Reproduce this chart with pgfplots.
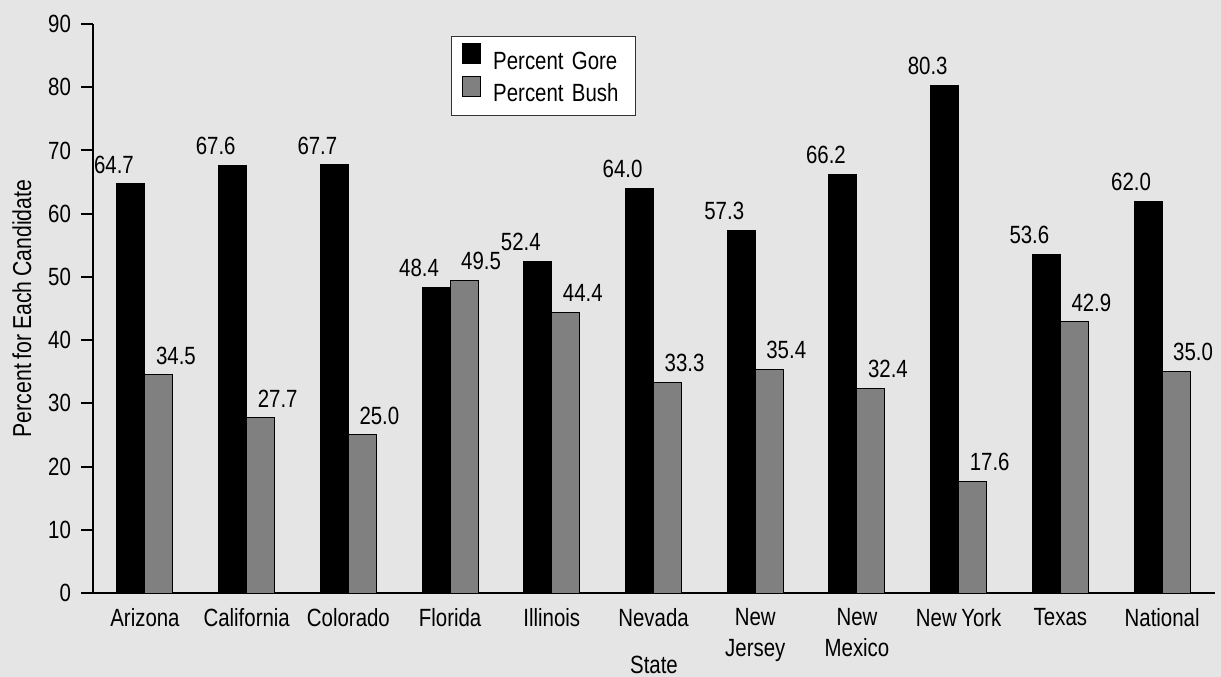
\documentclass[border=0pt]{standalone}
\usepackage{pgfplots}
\pgfplotsset{compat=1.18}
\usepackage{fontspec}
\setmainfont{Liberation Sans}[FakeStretch=0.82, WordSpace=0.8]
\definecolor{bg}{HTML}{E5E5E5}
\definecolor{bushgray}{HTML}{808080}
\definecolor{framegray}{HTML}{333333}
\newcommand{\lf}{\fontsize{12.5}{15.5}\selectfont}
\begin{document}
\begin{tikzpicture}
\fill[bg] (-46.5bp,-42bp) rectangle (564bp,296.5bp);
\path[use as bounding box] (-46.5bp,-42bp) rectangle (564bp,296.5bp);
\begin{axis}[
  at={(0,0)}, anchor=south west,
  scale only axis, width=561bp, height=284.5bp,
  xmin=-0.511, xmax=10.52, ymin=0, ymax=90,
  axis x line=bottom, axis y line=left,
  axis line style={-, line width=1bp, black},
  /pgf/number format/assume math mode=true,
  ytick={0,10,...,90},
  tick align=outside, major tick length=6bp,
  ytick style={line width=1bp, black},
  xtick={0,...,10},
  xticklabels={Arizona, California, Colorado, Florida, Illinois, Nevada, {New\\Jersey}, {New\\Mexico}, New York, Texas, National},
  xtick style={draw=none},
  xticklabel style={align=center, font=\lf, yshift=2bp},
  yticklabel style={font=\lf, xshift=-1.5bp},
  ylabel={Percent for Each Candidate},
  ylabel style={at={(axis description cs:-0.0633,0.5)}, anchor=center, font=\fontsize{13}{15}\selectfont},
  xlabel={State},
  xlabel style={at={(axis description cs:0.5,-0.141)}, anchor=base, font=\lf},
  legend style={at={(0.319,0.979)}, anchor=north west, draw=framegray, line width=0.5bp,
    fill=white, font=\lf, inner xsep=5.5bp, inner ysep=3.5bp, row sep=0bp,
    nodes={inner sep=2bp, text width=63.5bp, align=left},
    /tikz/every odd column/.append style={column sep=4bp}},
  legend cell align=left,
  nodes near coords={\pgfmathprintnumber[fixed,fixed zerofill,precision=1]{\pgfplotspointmeta}},
  every node near coord/.append style={font=\lf, inner sep=0pt, anchor=south, yshift=5bp},
]
\addplot[ybar, bar width=14bp, bar shift=-7bp, fill=black, draw=black, line width=0.5bp,
  every node near coord/.append style={xshift=-15.5bp},
  legend image code/.code={\draw[fill=black, draw=black, line width=0.4bp] (0bp,-1bp) rectangle (9bp,9bp);}]
  coordinates {(0,64.7) (1,67.6) (2,67.7) (3,48.4) (4,52.4) (5,64.0) (6,57.3) (7,66.2) (8,80.3) (9,53.6) (10,62.0)};
\addlegendentry{Percent Gore}
\addplot[ybar, bar width=14bp, bar shift=7bp, fill=bushgray, draw=black, line width=0.5bp,
  every node near coord/.append style={xshift=15.5bp},
  legend image code/.code={\draw[fill=bushgray, draw=black, line width=0.4bp] (0bp,-1bp) rectangle (9bp,9bp);}]
  coordinates {(0,34.5) (1,27.7) (2,25.0) (3,49.5) (4,44.4) (5,33.3) (6,35.4) (7,32.4) (8,17.6) (9,42.9) (10,35.0)};
\addlegendentry{Percent Bush}
\end{axis}
\end{tikzpicture}
\end{document}
